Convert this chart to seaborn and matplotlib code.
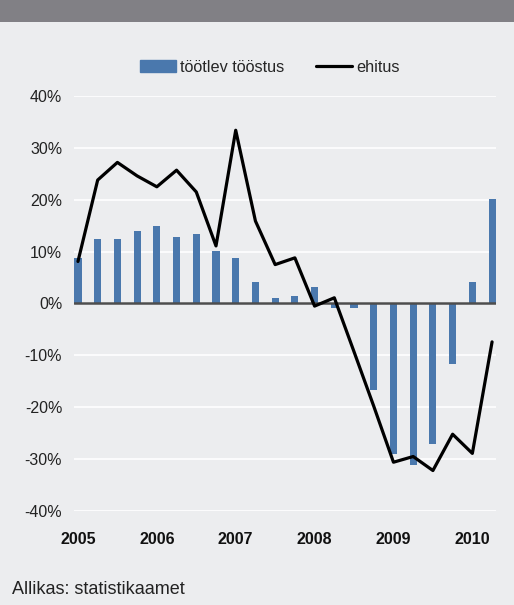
import matplotlib
matplotlib.use('Agg')
import matplotlib.pyplot as plt
import seaborn as sns
import pandas as pd
from matplotlib.patches import Patch, Rectangle
from matplotlib.lines import Line2D

# kvartalid 2005 I - 2010 II
kvartal = list(range(22))
aastad = ['2005', '2006', '2007', '2008', '2009', '2010']
tootlev = [8.8, 12.4, 12.4, 14.0, 14.9, 12.8, 13.4, 10.1, 8.8, 4.1, 1.1, 1.4,
           3.2, -0.8, -0.8, -16.6, -29.1, -31.1, -27.0, -11.6, 4.1, 20.1]
ehitus = [8.1, 23.8, 27.2, 24.6, 22.5, 25.7, 21.5, 11.1, 33.4, 15.9, 7.5, 8.8,
          -0.5, 1.1, -9.3, -19.8, -30.6, -29.5, -32.2, -25.2, -28.9, -7.4]
y_ticks = [-40, -30, -20, -10, 0, 10, 20, 30, 40]

df = pd.DataFrame({'kvartal': kvartal, 'tootlev': tootlev, 'ehitus': ehitus})

sns.set_style('white')
plt.rcParams['font.family'] = ['Liberation Sans', 'DejaVu Sans']

bg = '#ecedef'
sinine = '#4a78ad'

fig = plt.figure(figsize=(5.14, 6.05), dpi=100, facecolor=bg)
fig.add_artist(Rectangle((0, 1 - 22 / 605), 1, 22 / 605, transform=fig.transFigure,
                         color='#818085', lw=0))

ax = fig.add_axes([0.144, 0.1554, 0.821, 0.6859])
ax.set_facecolor(bg)

for t in y_ticks:
    ax.axhline(t, color='white', lw=1.2, zorder=0)

sns.barplot(data=df, x='kvartal', y='tootlev', native_scale=True, width=0.36,
            color=sinine, saturation=1, linewidth=0, ax=ax, zorder=2)
ax.axhline(0, color='#4d4d4d', lw=1.8, zorder=3)
sns.lineplot(data=df, x='kvartal', y='ehitus', color='black', lw=2.3, ax=ax, zorder=4)

ax.set_xlim(-0.2, 21.2)
ax.set_ylim(-40, 40)
ax.set_yticks(y_ticks)
ax.set_yticklabels([f'{t}%' for t in y_ticks], fontsize=11.5, color='#222222')
ax.set_xticks([0, 4, 8, 12, 16, 20])
ax.set_xticklabels(aastad, fontsize=11.5, fontweight='bold', color='#111111')
ax.tick_params(axis='both', length=0)
ax.tick_params(axis='y', pad=8.5)
ax.tick_params(axis='x', pad=15)
ax.set_xlabel('')
ax.set_ylabel('')
for s in ax.spines.values():
    s.set_visible(False)

handles = [Patch(color=sinine), Line2D([], [], color='black', lw=2.3)]
fig.legend(handles, ['töötlev tööstus', 'ehitus'], loc='center', ncol=2,
           bbox_to_anchor=(0.525, 0.889), frameon=False, fontsize=11.7,
           handlelength=2.2, handletextpad=0.25, columnspacing=2.0)

fig.text(12 / 514, 1 - 590 / 605, 'Allikas: statistikaamet', fontsize=13,
         color='#222222', va='center', ha='left')

fig.savefig('out.png', dpi=100, facecolor=bg)
